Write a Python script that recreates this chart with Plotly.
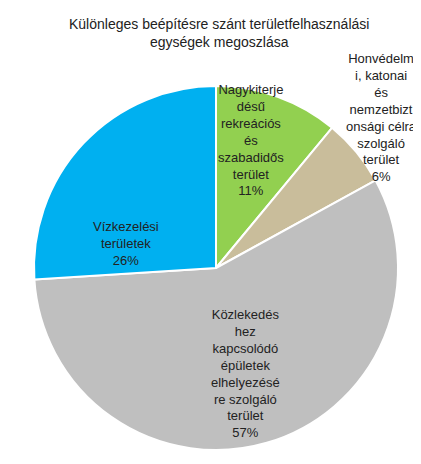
import plotly.graph_objects as go

labels = ["Nagykiterjedésű rekreációs és szabadidős terület",
          "Honvédelmi, katonai és nemzetbiztonsági célra szolgáló terület",
          "Közlekedéshez kapcsolódó épületek elhelyezésére szolgáló terület",
          "Vízkezelési területek"]
values = [11, 6, 57, 26]
colors = ["#92D050", "#C9BD9B", "#BFBFBF", "#00B0F0"]
label_text = ["Nagykiterje<br>désű<br>rekreációs<br>és<br>szabadidős<br>terület<br>11%",
              "Honvédelm<br>i, katonai<br>és<br>nemzetbizt<br>onsági célra<br>szolgáló<br>terület<br>6%",
              "Közlekedés<br>hez<br>kapcsolódó<br>épületek<br>elhelyezésé<br>re szolgáló<br>terület<br>57%",
              "Vízkezelési<br>területek<br>26%"]
label_pos = [(243, 132), (373, 110), (237, 365), (118, 235)]

W, H = 421, 464
fig = go.Figure(go.Pie(
    labels=labels, values=values, sort=False, direction="clockwise", rotation=0,
    marker=dict(colors=colors, line=dict(color="white", width=2)),
    textinfo="none", hoverinfo="label+percent", showlegend=False,
    domain=dict(x=[26 / W, 390 / W], y=[1 - 442 / H, 1 - 78 / H]),
))
for t, (x, y) in zip(label_text, label_pos):
    fig.add_annotation(x=x / W, y=1 - y / H, xref="paper", yref="paper", text=t,
                       xanchor="center", yanchor="middle",
                       showarrow=False, font=dict(size=13, color="#222"))
fig.add_annotation(x=0.5, y=1 - 25 / H, xref="paper", yref="paper",
                   xanchor="center", yanchor="middle",
                   text="Különleges beépítésre szánt területfelhasználási<br>egységek megoszlása",
                   showarrow=False, font=dict(size=14, color="#222"))
fig.update_layout(width=W, height=H, margin=dict(l=0, r=0, t=0, b=0),
                  paper_bgcolor="white", font=dict(family="Liberation Sans, Arial"))
fig.write_html("out.html")
